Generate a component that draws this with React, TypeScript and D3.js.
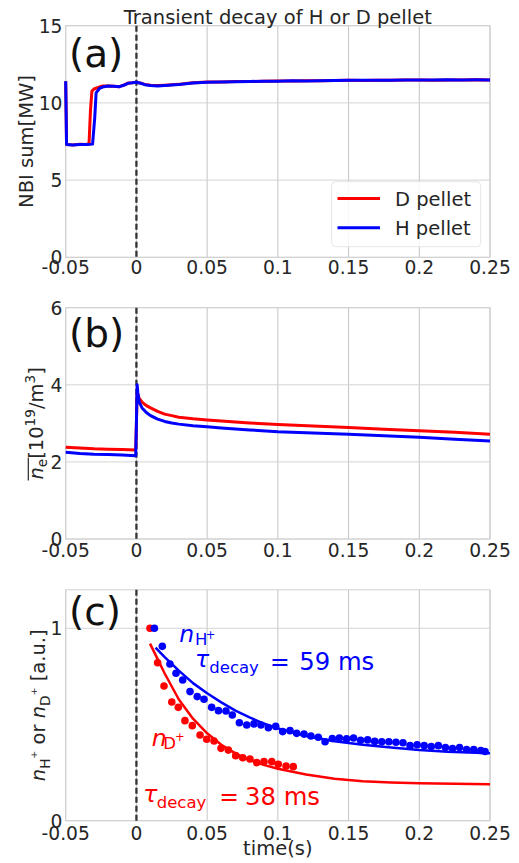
import React, { useEffect, useRef } from 'react';
import * as d3 from 'd3';

// shared time axis
const xTicks = [-0.05, 0, 0.05, 0.1, 0.15, 0.2, 0.25];
const xTickLabels = ['-0.05', '0', '0.05', '0.1', '0.15', '0.2', '0.25'];

// (a) NBI sum [MW]
const nbiTimeD = [-0.05, -0.0494, -0.045, -0.04, -0.036, -0.0335, -0.0325, -0.0315, -0.03, -0.027, -0.024, -0.02, -0.016, -0.012, -0.009, -0.006, -0.003, 0, 0.003, 0.006, 0.01, 0.015, 0.02, 0.025, 0.03, 0.035, 0.04, 0.05, 0.06, 0.07, 0.08, 0.09, 0.1, 0.11, 0.12, 0.13, 0.14, 0.15, 0.16, 0.17, 0.18, 0.19, 0.2, 0.21, 0.22, 0.23, 0.24, 0.25];
const nbiD = [11.4, 7.3, 7.28, 7.32, 7.3, 7.35, 9.5, 10.75, 10.9, 11.0, 11.1, 11.1, 11.08, 11.05, 11.15, 11.28, 11.3, 11.33, 11.28, 11.2, 11.15, 11.12, 11.15, 11.18, 11.2, 11.25, 11.3, 11.35, 11.36, 11.38, 11.38, 11.4, 11.42, 11.42, 11.43, 11.44, 11.45, 11.46, 11.45, 11.47, 11.46, 11.48, 11.48, 11.47, 11.49, 11.48, 11.5, 11.48];
const nbiTimeH = [-0.05, -0.0494, -0.045, -0.04, -0.035, -0.031, -0.0295, -0.0285, -0.026, -0.023, -0.02, -0.016, -0.012, -0.009, -0.006, -0.003, 0, 0.003, 0.006, 0.01, 0.015, 0.02, 0.025, 0.03, 0.035, 0.04, 0.05, 0.06, 0.07, 0.08, 0.09, 0.1, 0.11, 0.12, 0.13, 0.14, 0.15, 0.16, 0.17, 0.18, 0.19, 0.2, 0.21, 0.22, 0.23, 0.24, 0.25];
const nbiH = [11.4, 7.3, 7.28, 7.3, 7.3, 7.33, 9.0, 10.65, 10.95, 11.05, 11.1, 11.08, 11.05, 11.14, 11.27, 11.3, 11.34, 11.27, 11.18, 11.13, 11.1, 11.13, 11.16, 11.19, 11.24, 11.29, 11.34, 11.35, 11.37, 11.39, 11.4, 11.41, 11.43, 11.42, 11.44, 11.45, 11.47, 11.46, 11.46, 11.47, 11.48, 11.49, 11.48, 11.5, 11.49, 11.5, 11.49];
const nbiTicks = [0, 5, 10, 15];

// (b) line averaged density [10^19/m^3]
const neTime = [-0.05, -0.04, -0.03, -0.02, -0.01, -0.0005, 0, 0.0005, 0.001, 0.002, 0.004, 0.007, 0.01, 0.015, 0.02, 0.025, 0.03, 0.04, 0.05, 0.06, 0.08, 0.1, 0.125, 0.15, 0.175, 0.2, 0.225, 0.25];
const neD = [2.38, 2.36, 2.34, 2.33, 2.32, 2.31, 3.0, 3.78, 3.75, 3.65, 3.55, 3.46, 3.4, 3.31, 3.24, 3.2, 3.16, 3.12, 3.09, 3.06, 3.01, 2.97, 2.93, 2.89, 2.85, 2.81, 2.77, 2.72];
const neH = [2.25, 2.22, 2.2, 2.19, 2.18, 2.16, 3.0, 4.0, 3.8, 3.55, 3.4, 3.28, 3.2, 3.11, 3.05, 3.01, 2.98, 2.94, 2.91, 2.88, 2.83, 2.78, 2.75, 2.72, 2.68, 2.64, 2.59, 2.54];
const neTicks = [0, 2, 4, 6];

// (c) normalised ion density, measured points and exponential fits
const dotTimeH = [0.0127, 0.0183, 0.0237, 0.028, 0.0327, 0.0379, 0.043, 0.0478, 0.0532, 0.058, 0.0633, 0.0678, 0.0728, 0.078, 0.0831, 0.0881, 0.0933, 0.0985, 0.1034, 0.1086, 0.1133, 0.1185, 0.1234, 0.1286, 0.1334, 0.1385, 0.1435, 0.1486, 0.1535, 0.1585, 0.1635, 0.1685, 0.1735, 0.1785, 0.1835, 0.1885, 0.1935, 0.1985, 0.2035, 0.2085, 0.2135, 0.2185, 0.2235, 0.2285, 0.2335, 0.2385, 0.2435, 0.2465];
const dotH = [1.0, 0.906, 0.814, 0.766, 0.731, 0.671, 0.645, 0.631, 0.589, 0.572, 0.57, 0.549, 0.509, 0.497, 0.503, 0.497, 0.483, 0.49, 0.463, 0.468, 0.454, 0.45, 0.44, 0.434, 0.41, 0.427, 0.43, 0.425, 0.43, 0.418, 0.42, 0.412, 0.41, 0.41, 0.408, 0.405, 0.39, 0.395, 0.39, 0.385, 0.39, 0.38, 0.375, 0.38, 0.37, 0.37, 0.365, 0.36];
const dotTimeD = [0.0096, 0.015, 0.0195, 0.025, 0.0296, 0.0343, 0.0395, 0.045, 0.0497, 0.0549, 0.0598, 0.065, 0.0702, 0.0752, 0.0803, 0.0851, 0.0902, 0.0957, 0.1003, 0.1058, 0.1109];
const dotD = [1.0, 0.821, 0.7, 0.617, 0.589, 0.52, 0.494, 0.445, 0.423, 0.414, 0.376, 0.367, 0.338, 0.327, 0.321, 0.302, 0.307, 0.307, 0.293, 0.284, 0.281];
const fitTimeH = [0.0135, 0.02, 0.03, 0.04, 0.05, 0.06, 0.07, 0.08, 0.09, 0.1, 0.12, 0.14, 0.16, 0.18, 0.2, 0.22, 0.25];
const fitH = [0.9, 0.85, 0.78, 0.715, 0.662, 0.615, 0.572, 0.537, 0.505, 0.48, 0.44, 0.413, 0.395, 0.38, 0.367, 0.358, 0.35];
const fitTimeD = [0.0096, 0.015, 0.02, 0.03, 0.04, 0.05, 0.06, 0.07, 0.08, 0.09, 0.1, 0.12, 0.14, 0.16, 0.18, 0.2, 0.25];
const fitD = [0.92, 0.84, 0.765, 0.63, 0.53, 0.454, 0.395, 0.35, 0.315, 0.29, 0.27, 0.24, 0.218, 0.205, 0.198, 0.194, 0.19];
const ionTicks = [0, 1];

const RED = '#ff0000';
const BLUE = '#0000ff';
const TXT = '#262626';
const FONT = '"DejaVu Sans", sans-serif';

const App = () => {
  const svgRef = useRef<SVGSVGElement>(null);

  useEffect(() => {
    const svg = d3.select(svgRef.current);
    svg.selectAll('*').remove();

    const x = d3.scaleLinear().domain([-0.05, 0.25]).range([65.7, 490]);

    const panels = [
      { top: 25.7, bottom: 257.3, domain: [0, 15], ticks: nbiTicks, labelY: 274, tag: '(a)', tagY: 66.5 },
      { top: 307.7, bottom: 539, domain: [0, 6], ticks: neTicks, labelY: 556.5, tag: '(b)', tagY: 346.5 },
      { top: 589.8, bottom: 820.7, domain: [0, 1.2], ticks: ionTicks, labelY: 840, tag: '(c)', tagY: 625 },
    ];

    const ys = panels.map(p => {
      const y = d3.scaleLinear().domain(p.domain).range([p.bottom, p.top]);
      const g = svg.append('g');

      // grid
      g.selectAll('.vg').data(xTicks).enter().append('line')
        .attr('x1', d => x(d)).attr('x2', d => x(d))
        .attr('y1', p.top).attr('y2', p.bottom)
        .attr('stroke', '#c4c4c4').attr('stroke-width', 1);
      g.selectAll('.hg').data(p.ticks).enter().append('line')
        .attr('x1', x(-0.05)).attr('x2', x(0.25))
        .attr('y1', d => y(d)).attr('y2', d => y(d))
        .attr('stroke', '#d4d4d4').attr('stroke-width', 1);
      // frame
      g.append('rect')
        .attr('x', x(-0.05)).attr('y', p.top)
        .attr('width', x(0.25) - x(-0.05)).attr('height', p.bottom - p.top)
        .attr('fill', 'none').attr('stroke', '#d0d0d0').attr('stroke-width', 1);

      // tick labels
      g.selectAll('.xt').data(xTicks).enter().append('text')
        .attr('x', d => x(d)).attr('y', p.labelY)
        .attr('text-anchor', 'middle')
        .attr('font-family', FONT).attr('font-size', 18.7).attr('fill', TXT)
        .text((d, i) => xTickLabels[i]);
      g.selectAll('.yt').data(p.ticks).enter().append('text')
        .attr('x', 62.5).attr('y', d => y(d) + 6.8)
        .attr('text-anchor', 'end')
        .attr('font-family', FONT).attr('font-size', 18.7).attr('fill', TXT)
        .text(d => String(d));

      // pellet time marker
      g.append('line')
        .attr('x1', x(0)).attr('x2', x(0))
        .attr('y1', p.top).attr('y2', p.bottom)
        .attr('stroke', '#333').attr('stroke-width', 2.3)
        .attr('stroke-dasharray', '6,3');

      // panel tag
      g.append('text')
        .attr('x', 69).attr('y', p.tagY)
        .attr('font-family', FONT).attr('font-size', 39).attr('fill', '#111')
        .text(p.tag);

      return y;
    });

    const drawLine = (times: number[], vals: number[], y: d3.ScaleLinear<number, number>, color: string, w: number) => {
      const line = d3.line<number>().x((d, i) => x(times[i])).y(d => y(d));
      svg.append('path')
        .attr('d', line(vals))
        .attr('fill', 'none').attr('stroke', color)
        .attr('stroke-width', w).attr('stroke-linejoin', 'round');
    };

    // (a)
    drawLine(nbiTimeD, nbiD, ys[0], RED, 3);
    drawLine(nbiTimeH, nbiH, ys[0], BLUE, 3);

    // (b)
    drawLine(neTime, neD, ys[1], RED, 3);
    drawLine(neTime, neH, ys[1], BLUE, 3);

    // (c)
    drawLine(fitTimeD, fitD, ys[2], RED, 2.5);
    svg.append('g').selectAll('circle').data(dotD).enter().append('circle')
      .attr('cx', (d, i) => x(dotTimeD[i])).attr('cy', d => ys[2](d))
      .attr('r', 3.8).attr('fill', RED);
    drawLine(fitTimeH, fitH, ys[2], BLUE, 2.5);
    svg.append('g').selectAll('circle').data(dotH).enter().append('circle')
      .attr('cx', (d, i) => x(dotTimeH[i])).attr('cy', d => ys[2](d))
      .attr('r', 3.8).attr('fill', BLUE);

    // title
    svg.append('text')
      .attr('x', 277.8).attr('y', 23.5).attr('text-anchor', 'middle')
      .attr('font-family', FONT).attr('font-size', 19.5).attr('fill', TXT)
      .text('Transient decay of H or D pellet');

    // x label
    svg.append('text')
      .attr('x', 277.8).attr('y', 855).attr('text-anchor', 'middle')
      .attr('font-family', FONT).attr('font-size', 19.5).attr('fill', TXT)
      .text('time(s)');

    // legend
    const leg = svg.append('g');
    leg.append('rect')
      .attr('x', 331.7).attr('y', 181.7).attr('width', 149).attr('height', 65)
      .attr('rx', 4).attr('fill', 'rgba(255,255,255,0.85)')
      .attr('stroke', '#e6e6e6').attr('stroke-width', 1);
    [['D pellet', RED, 198.5], ['H pellet', BLUE, 227.8]].forEach(([label, color, ly]) => {
      leg.append('line')
        .attr('x1', 337.5).attr('x2', 380).attr('y1', ly as number).attr('y2', ly as number)
        .attr('stroke', color as string).attr('stroke-width', 3);
      leg.append('text')
        .attr('x', 395).attr('y', (ly as number) + 7)
        .attr('font-family', FONT).attr('font-size', 19.5).attr('fill', TXT)
        .text(label as string);
    });

    // rotated, math-like y labels
    type Seg = { t: string; size: number; shift: number; italic?: boolean };
    const mathLabel = (bx: number, cy: number, segs: Seg[], fill: string) => {
      const g = svg.append('g').attr('transform', `translate(${bx},${cy}) rotate(-90)`);
      const text = g.append('text')
        .attr('font-family', FONT).attr('fill', fill).attr('xml:space', 'preserve');
      let prev = 0;
      segs.forEach(s => {
        text.append('tspan')
          .attr('font-size', s.size)
          .attr('font-style', s.italic ? 'italic' : 'normal')
          .attr('dy', s.shift - prev)
          .text(s.t);
        prev = s.shift;
      });
      const len = (text.node() as SVGTextElement).getComputedTextLength();
      text.attr('x', -len / 2);
      return { g, start: -len / 2 };
    };

    mathLabel(33, 141.5, [{ t: 'NBI sum[MW]', size: 19.5, shift: 0 }], TXT);

    const ne = mathLabel(43, 423.4, [
      { t: 'n', size: 19.5, shift: 0, italic: true },
      { t: 'e', size: 13.6, shift: 4 },
      { t: '[10', size: 19.5, shift: 0 },
      { t: '19', size: 13.6, shift: -8 },
      { t: '/m', size: 19.5, shift: 0 },
      { t: '3', size: 13.6, shift: -8 },
      { t: ']', size: 19.5, shift: 0 },
    ], TXT);
    ne.g.append('line')
      .attr('x1', ne.start - 1).attr('x2', ne.start + 22)
      .attr('y1', -14.7).attr('y2', -14.7)
      .attr('stroke', TXT).attr('stroke-width', 1.2);

    mathLabel(45, 705.3, [
      { t: 'n', size: 19.5, shift: 0, italic: true },
      { t: 'H', size: 13.6, shift: 5 },
      { t: '+', size: 9.5, shift: -8.5 },
      { t: ' or ', size: 19.5, shift: 0 },
      { t: 'n', size: 19.5, shift: 0, italic: true },
      { t: 'D', size: 13.6, shift: 5 },
      { t: '+', size: 9.5, shift: -8.5 },
      { t: ' [a.u.]', size: 19.5, shift: 0 },
    ], TXT);

    // annotations in (c)
    const note = (px: number, py: number, t: string, size: number, color: string, italic = false) => {
      svg.append('text')
        .attr('x', px).attr('y', py)
        .attr('font-family', FONT).attr('font-size', size)
        .attr('font-style', italic ? 'italic' : 'normal')
        .attr('fill', color).text(t);
    };
    // n_H+
    note(179.3, 641.7, 'n', 23.5, BLUE, true);
    note(195, 645, 'H', 16.5, BLUE);
    note(205.7, 638.5, '+', 11.5, BLUE);
    // tau decay = 59 ms
    note(195, 667, 'τ', 23.5, BLUE, true);
    note(209.3, 673, 'decay', 16.5, BLUE);
    note(270, 669.5, '=', 23.5, BLUE);
    note(299.3, 669.5, '59 ms', 24.3, BLUE);
    // n_D+
    note(151.7, 746, 'n', 23.5, RED, true);
    note(163.3, 748.8, 'D', 16.5, RED);
    note(175, 740.5, '+', 11.5, RED);
    // tau decay = 38 ms
    note(143.3, 802, 'τ', 23.5, RED, true);
    note(156.7, 808, 'decay', 16.5, RED);
    note(219.3, 804.5, '=', 23.5, RED);
    note(245, 804.5, '38 ms', 24.3, RED);
  }, []);

  return (
    <svg ref={svgRef} width={519} height={863} style={{ position: 'absolute', left: 0, top: 0, background: '#fff' }} />
  );
};

export default App;
